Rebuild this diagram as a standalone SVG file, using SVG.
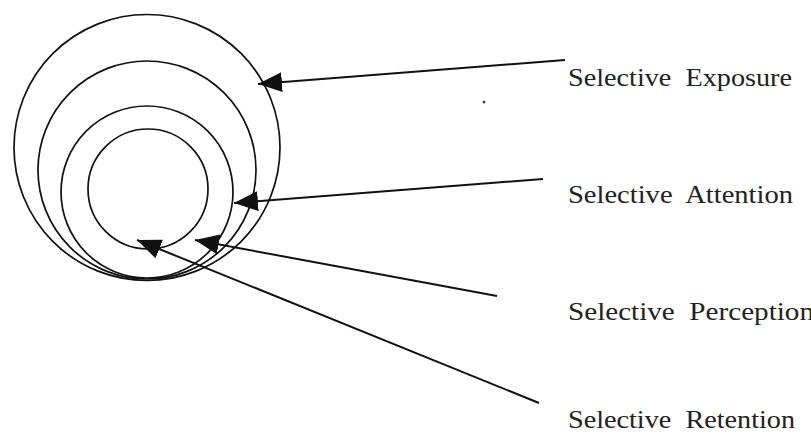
<svg xmlns="http://www.w3.org/2000/svg" width="811" height="437" viewBox="0 0 811 437">
<style>
.ring{fill:none;stroke:#111;stroke-width:1.7}
.conn{fill:none;stroke:#111;stroke-width:2}
.lbl{font-family:"Liberation Serif","Times New Roman",serif;font-size:26px;fill:#222}
</style>
<defs>
<marker id="ah" markerUnits="userSpaceOnUse" markerWidth="26" markerHeight="22" refX="24" refY="10" orient="auto">
<path d="M0,0 L24,10 L0,20 z" fill="#111"/>
</marker>
</defs>
<rect width="811" height="437" fill="#fff"/>
<g id="exposure-ring"><circle class="ring" cx="147" cy="147.5" r="133"/></g>
<g id="attention-ring"><circle class="ring" cx="147" cy="170" r="109"/></g>
<g id="perception-ring"><circle class="ring" cx="147" cy="192" r="86"/></g>
<g id="retention-ring"><circle class="ring" cx="148" cy="189" r="60"/></g>
<g id="connectors">
<line class="conn" x1="565" y1="60" x2="258" y2="84" marker-end="url(#ah)"/>
<line class="conn" x1="543" y1="179" x2="234" y2="203" marker-end="url(#ah)"/>
<line class="conn" x1="497" y1="296" x2="195" y2="240" marker-end="url(#ah)"/>
<line class="conn" x1="539" y1="403" x2="137" y2="240" marker-end="url(#ah)"/>
</g>
<g id="label-exposure"><text class="lbl" x="568" y="86" textLength="224" lengthAdjust="spacingAndGlyphs" xml:space="preserve">Selective  Exposure</text></g>
<g id="label-attention"><text class="lbl" x="568" y="203" textLength="225" lengthAdjust="spacingAndGlyphs" xml:space="preserve">Selective  Attention</text></g>
<g id="label-perception"><text class="lbl" x="568" y="320" textLength="246" lengthAdjust="spacingAndGlyphs" xml:space="preserve">Selective  Perception</text></g>
<g id="label-retention"><text class="lbl" x="568" y="428" textLength="227" lengthAdjust="spacingAndGlyphs" xml:space="preserve">Selective  Retention</text></g>
<circle cx="484" cy="102" r="1.5" fill="#444"/>
</svg>
